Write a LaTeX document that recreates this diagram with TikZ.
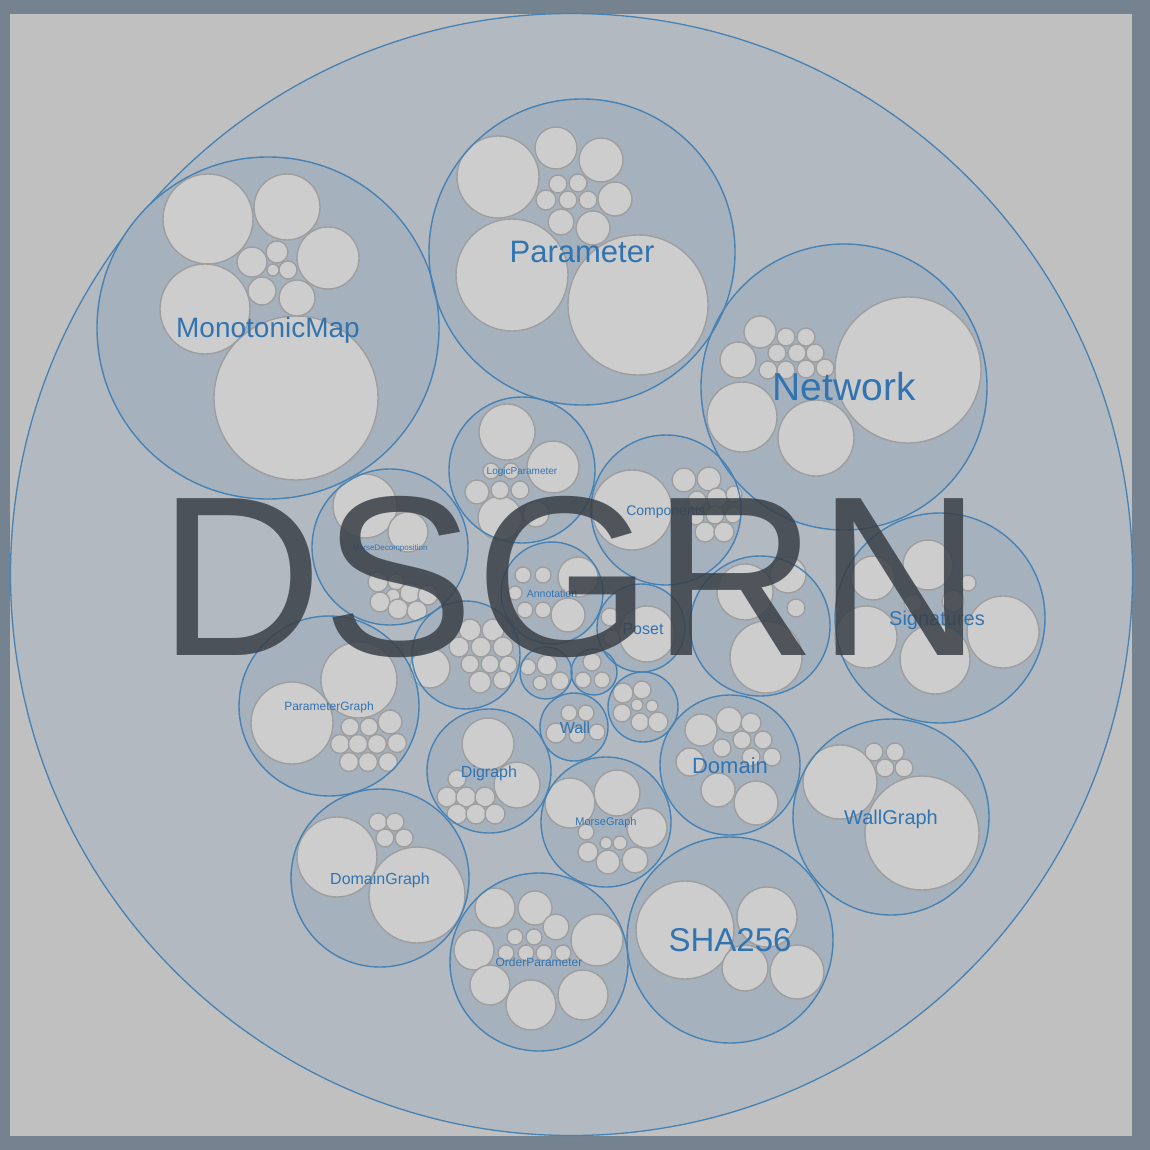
\documentclass[tikz,border=0pt]{standalone}
\usepackage{fontspec}
\newfontfamily\labfont{Liberation Sans}
\definecolor{framec}{HTML}{758391}
\definecolor{pagebg}{HTML}{C0C0C0}
\definecolor{rootfill}{HTML}{B2B9C1}
\definecolor{groupfill}{HTML}{A6B1BE}
\definecolor{leaffill}{HTML}{CDCDCD}
\definecolor{leafline}{HTML}{9E9E9E}
\definecolor{blueline}{HTML}{4682B4}
\definecolor{labblue}{HTML}{3274B0}
\definecolor{bigtext}{HTML}{3A4047}
\tikzset{
  rootc/.style={fill=rootfill, draw=blueline, line width=1.3pt},
  groupc/.style={fill=groupfill},
  groupline/.style={draw=blueline, line width=1.4pt},
  leafc/.style={fill=leaffill, draw=leafline, line width=1.4pt},
  lab/.style={text=labblue, inner sep=0pt, anchor=base},
  bigtitle/.style={text=bigtext, text opacity=0.85, inner sep=0pt, anchor=base, font=\labfont\fontsize{228}{228}\selectfont}
}
\begin{document}
\begin{tikzpicture}[x=1pt,y=-1pt]
\useasboundingbox (0,0) rectangle (1150,1150);
\fill[framec] (0,0) rectangle (1150,1150);
\fill[pagebg] (10,14) rectangle (1132,1136);
\draw[rootc] (571.5,574.5) circle[radius=561pt];
% group circles: x/y/r
\def\groups{268/328/171, 582/252/153, 844/387/143, 522/470/73, 666/510/75,
  390/547/78, 552/593/51, 641/628/44, 760/626/70, 940/618/105, 329/706/90,
  466/655/54, 546/673/26, 594/672/23, 574/727/34, 643/707/35, 489/771/62,
  606/822/65, 730/765/70, 891/817/98, 730/940/103, 539/962/89, 380/878/89}
\foreach \x/\y/\r in \groups { \fill[groupc] (\x,\y) circle[radius=\r pt]; }
% leaves
\foreach \x/\y/\r in {
  % MonotonicMap
  208/219/45, 287/207/33, 328/258/31, 205/309/45, 296/398/82, 252/262/15, 277/252/11, 273/270/6, 288/270/9, 262/291/14, 297/298/18,
  % Parameter
  638/305/70, 512/275/56, 498/177/41, 556/148/21, 601/160/22, 615/199/17, 593/228/17, 561/222/13, 558/184/9, 578/183/9, 546/200/10, 568/200/9, 588/200/9,
  % Network
  908/370/73, 742/417/35, 816/438/38, 738/360/18, 760/332/16, 786/337/9, 806/337/9, 777/353/9, 797/353/9, 815/353/9, 768/370/9, 786/370/9, 806/369/9, 825/368/9,
  % LogicParameter
  507/432/28, 553/467/26, 500/518/22, 477/492/12, 500/490/9, 520/490/9, 491/471/8, 511/471/8, 536/514/13,
  % Components
  632/510/40, 684/480/12, 709/479/12, 697/500/9, 717/498/10, 734/494/8, 696/517/8, 715/515/9, 733/515/8, 705/532/10, 724/532/10,
  % MorseDecomposition
  365/506/32, 408/532/20, 378/582/10, 396/582/8, 393/596/7, 410/593/10, 428/595/10, 380/602/10, 398/609/10, 417/611/10,
  % Annotation
  578/577/20, 568/615/17, 523/575/8, 543/575/8, 525/610/8, 543/610/8, 515/593/7,
  % Poset
  647/634/28, 610/617/9, 612/638/8,
  % unlabeled U1
  745/592/28, 788/575/18, 766/657/36, 796/608/9,
  % Signatures
  928/565/25, 873/578/22, 1003/632/36, 935/659/35, 866/637/31, 953/601/11, 913/603/9, 968/583/8,
  % ParameterGraph
  292/723/41, 359/680/38, 350/727/9, 369/727/9, 390/722/12, 340/744/9.5, 358/744/9.5, 377/744/9.5, 397/743/9.5, 349/762/9.5, 368/762/9.5, 388/762/9.5,
  % U2
  430/668/20, 470/630/11, 493/630/11, 459/647/10, 481/647/10, 503/647/10, 470/664/9, 490/664/9, 508/665/9, 480/682/11, 502/680/9,
  % U3
  528/667/8, 547/665/10, 540/683/7, 560/681/9,
  % U4
  592/662/9, 583/680/8, 602/680/8,
  % Wall
  569/713/8, 586/713/8, 556/733/10, 577/735/8, 597/732/8,
  % U5
  623/693/10, 642/690/9, 622/713/9, 640/722/9, 658/722/10, 637/705/6, 652/706/6,
  % Digraph
  488/744/26, 517/785/23, 447/797/10, 466/797/10, 485/797/10, 457/814/10, 476/814/10, 495/814/10, 457/779/9,
  % MorseGraph
  570/803/25, 617/793/23, 647/828/20, 588/852/10, 608/862/12, 635/860/13, 586/832/8, 606/843/6, 620/843/7,
  % Domain
  701/730/16, 729/720/13, 751/723/10, 690/762/14, 718/790/17, 756/803/22, 722/748/9, 742/740/9, 763/740/9, 751/757/9, 772/757/9,
  % WallGraph
  922/833/57, 840/782/37, 874/752/9, 895/752/9, 885/768/9, 904/768/9,
  % SHA256
  685/930/49, 767/917/30, 745/968/23, 797/972/27,
  % OrderParameter
  495/908/20, 535/908/17, 556/927/13, 597/940/26, 474/950/20, 490/985/20, 531/1005/25, 583/995/25, 515/937/8, 534/937/8, 506/953/8, 526/953/8, 544/953/8, 563/953/8,
  % DomainGraph
  337/857/40, 417/895/48, 378/822/9, 395/822/9, 385/838/9, 404/838/9}
  { \draw[leafc] (\x,\y) circle[radius=\r pt]; }
\foreach \x/\y/\r in \groups { \draw[groupline] (\x,\y) circle[radius=\r pt]; }
% labels: name/text/x/y/size
\foreach \n/\t/\x/\y/\s in {
  lMonotonicMap/MonotonicMap/268/328/28,
  lParameter/Parameter/582/252/31,
  lNetwork/Network/844/387/39,
  lLogicParameter/LogicParameter/522/471/10,
  lComponents/Components/666/511/14,
  lMorseDecomposition/MorseDecomposition/390/548/8,
  lAnnotation/Annotation/552/594/10.5,
  lPoset/Poset/643/629/16,
  lSignatures/Signatures/937/618/20,
  lParameterGraph/ParameterGraph/329/706/12,
  lWall/Wall/575/728/16,
  lDigraph/Digraph/489/772/16,
  lMorseGraph/MorseGraph/606/822/11,
  lDomain/Domain/730/766/22,
  lWallGraph/WallGraph/891/817/20,
  lSHA256/SHA256/730/940/33,
  lOrderParameter/OrderParameter/539/962/12,
  lDomainGraph/DomainGraph/380/879/16}
  { \node[lab, font=\labfont\fontsize{\s}{\s}\selectfont] (\n) at (\x,{\y+0.35*\s}) {\t}; }
\node[bigtitle] (title) at (570,655) {DSGRN};
\end{tikzpicture}
\end{document}
